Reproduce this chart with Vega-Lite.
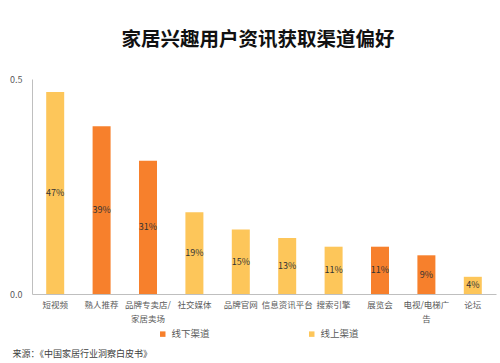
{
  "$schema": "https://vega.github.io/schema/vega-lite/v6.json",
  "width": 464,
  "height": 215,
  "autosize": {"type": "none"},
  "padding": {"left": 32, "top": 79, "right": 4, "bottom": 69},
  "background": "white",
  "config": {
    "font": "Noto Sans CJK SC",
    "view": {"stroke": null}
  },
  "title": {
    "text": "家居兴趣用户资讯获取渠道偏好",
    "fontSize": 19.5,
    "fontWeight": "bold",
    "color": "#111111",
    "anchor": "middle",
    "dx": -6,
    "offset": 25
  },
  "data": {
    "values": [
      {"channel": "短视频", "v": 0.47, "type": "线上渠道"},
      {"channel": "熟人推荐", "v": 0.39, "type": "线下渠道"},
      {"channel": "品牌专卖店/|家居卖场", "v": 0.31, "type": "线下渠道"},
      {"channel": "社交媒体", "v": 0.19, "type": "线上渠道"},
      {"channel": "品牌官网", "v": 0.15, "type": "线上渠道"},
      {"channel": "信息资讯平台", "v": 0.13, "type": "线上渠道"},
      {"channel": "搜索引擎", "v": 0.11, "type": "线上渠道"},
      {"channel": "展览会", "v": 0.11, "type": "线下渠道"},
      {"channel": "电视/电梯广|告", "v": 0.09, "type": "线下渠道"},
      {"channel": "论坛", "v": 0.04, "type": "线上渠道"}
    ]
  },
  "transform": [{"calculate": "datum.v / 2", "as": "mid"}],
  "encoding": {
    "x": {
      "field": "channel",
      "type": "nominal",
      "sort": null,
      "scale": {"paddingInner": 0.6, "paddingOuter": 0.3},
      "axis": {
        "labelAngle": 0,
        "labelExpr": "split(datum.label, '|')",
        "labelFontSize": 8.5,
        "labelColor": "#595959",
        "labelPadding": 6,
        "labelLineHeight": 14,
        "labelOverlap": false,
        "ticks": false,
        "domainColor": "#bfbfbf",
        "title": "来源：《中国家居行业洞察白皮书》",
        "titleFontSize": 9,
        "titleFontWeight": "normal",
        "titleColor": "#404040",
        "titleAnchor": "start",
        "titleAlign": "left",
        "titleBaseline": "middle",
        "titleX": -20,
        "titleY": 59
      }
    }
  },
  "layer": [
    {
      "mark": {"type": "bar", "size": 18},
      "encoding": {
        "y": {
          "field": "v",
          "type": "quantitative",
          "scale": {"domain": [0, 0.5]},
          "axis": {
            "values": [0, 0.5],
            "format": ".1f",
            "grid": false,
            "ticks": false,
            "labelPadding": 10,
            "labelFontSize": 9,
            "labelColor": "#595959",
            "domainColor": "#bfbfbf",
            "title": null
          }
        },
        "color": {
          "field": "type",
          "type": "nominal",
          "scale": {"domain": ["线下渠道", "线上渠道"], "range": ["#F7802C", "#FDC65A"]},
          "legend": {
            "title": null,
            "orient": "none",
            "direction": "horizontal",
            "legendX": 126,
            "legendY": 250,
            "symbolType": "square",
            "symbolSize": 30,
            "labelFontSize": 9.5,
            "labelColor": "#595959",
            "columnPadding": 97
          }
        }
      }
    },
    {
      "mark": {"type": "text", "fontSize": 9, "color": "#333333"},
      "encoding": {
        "y": {"field": "mid", "type": "quantitative"},
        "text": {"field": "v", "type": "quantitative", "format": ".0%"}
      }
    }
  ]
}
